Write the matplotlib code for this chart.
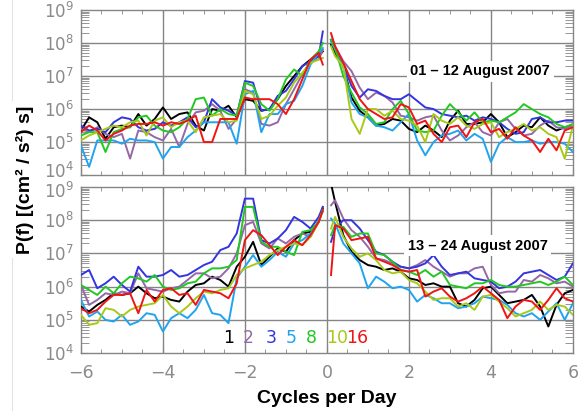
import matplotlib.pyplot as plt
import numpy as np
from matplotlib.lines import Line2D
from matplotlib.transforms import ScaledTranslation
from matplotlib.ticker import FixedLocator, LogLocator, MultipleLocator, NullFormatter

plt.rcParams.update({
    "font.family": "DejaVu Sans",
    "axes.linewidth": 1.0,
})

# frequency bins (cycles per day), each side of zero
FREQ_NEG = [-6.0, -5.8, -5.6, -5.4, -5.2, -5.0, -4.8, -4.6, -4.4, -4.2, -4.0,
            -3.8, -3.6, -3.4, -3.2, -3.0, -2.8, -2.6, -2.4, -2.2, -2.0,
            -1.8, -1.6, -1.4, -1.2, -1.0, -0.8, -0.6, -0.4, -0.2, -0.1]
FREQ_POS = [0.1, 0.2, 0.4, 0.6, 0.8, 1.0, 1.2, 1.4, 1.6, 1.8, 2.0,
            2.2, 2.4, 2.6, 2.8, 3.0, 3.2, 3.4, 3.6, 3.8, 4.0,
            4.2, 4.4, 4.6, 4.8, 5.0, 5.2, 5.4, 5.6, 5.8, 6.0]

DRIFTERS = ["1", "2", "3", "5", "8", "10", "16"]
COLORS = ["#000000", "#9468a8", "#3434e0", "#20a4f0", "#22c822", "#a8c81a", "#f01414"]

# log10 P(f), 01-12 August 2007
AUG01_NEG = {
    "1":  [5.35, 5.75, 5.6, 5.1, 5.45, 5.5, 5.45, 5.85, 5.5, 5.7, 6.05, 5.7, 5.85, 5.9, 5.5, 5.35,
           6.0, 5.95, 6.1, 5.75, 6.3, 6.25, 5.95, 6.0, 6.3, 6.7, 7.0, 7.3, 7.5, 7.6, 7.75],
    "2":  [5.4, 5.3, 5.45, 5.25, 5.15, 5.25, 4.5, 5.35, 5.3, 5.15, 5.05, 5.4, 4.85, 5.55, 5.9, 5.95,
           6.15, 5.95, 5.4, 5.7, 6.6, 6.5, 5.55, 5.5, 5.6, 6.15, 6.6, 7.05, 7.45, 7.5, 7.8],
    "3":  [5.5, 5.35, 5.4, 5.3, 5.6, 5.75, 5.7, 5.45, 5.35, 5.4, 5.6, 5.5, 5.6, 5.75, 5.45, 5.6,
           6.3, 6.05, 5.95, 5.8, 6.85, 6.8, 5.95, 6.0, 6.4, 6.55, 6.9, 7.3, 7.45, 7.6, 8.35],
    "5":  [4.9, 4.25, 5.05, 5.05, 5.05, 4.95, 5.1, 5.05, 5.05, 5.0, 4.5, 4.85, 4.85, 5.15, 5.35, 5.6,
           5.6, 5.6, 5.6, 4.95, 6.45, 6.55, 5.3, 5.85, 5.85, 6.15, 6.25, 6.7, 7.35, 7.7, 7.85],
    "8":  [5.2, 5.3, 5.3, 4.7, 5.3, 5.4, 5.45, 5.75, 5.8, 5.5, 5.35, 5.3, 5.45, 5.7, 6.3, 6.35,
           5.8, 6.0, 5.85, 5.8, 6.8, 6.7, 6.15, 5.95, 6.3, 6.9, 7.2, 7.0, 7.5, 7.75, 8.0],
    "10": [5.05, 5.2, 5.3, 5.4, 5.5, 5.45, 5.6, 5.65, 5.2, 5.65, 5.75, 5.45, 5.6, 5.65, 5.3, 5.75,
           5.8, 5.85, 5.6, 5.65, 6.55, 6.45, 5.7, 5.8, 6.1, 6.35, 6.8, 7.1, 7.4, 7.5, 7.55],
    "16": [5.3, 5.5, 5.35, 5.05, 5.25, 5.35, 5.5, 5.55, 5.55, 5.6, 5.5, 5.6, 5.55, 5.65, 5.8, 5.0,
           5.0, 5.7, 5.7, 5.7, 6.35, 6.3, 6.3, 6.3, 6.15, 5.85, 6.3, 6.9, 7.5, 7.7, 7.35],
}
AUG01_POS = {
    "1":  [7.95, 7.7, 7.3, 6.35, 5.95, 5.75, 5.5, 5.55, 5.7, 5.65, 5.4, 5.3, 5.5, 5.35, 5.15, 5.65,
           5.95, 5.55, 5.55, 5.6, 5.85, 5.6, 5.15, 5.3, 5.5, 5.45, 5.75, 5.5, 5.35, 5.45, 5.5],
    "2":  [8.1, 7.9, 7.45, 7.15, 6.65, 6.3, 6.5, 6.4, 6.2, 5.8, 5.75, 5.65, 5.75, 5.8, 5.35, 5.05,
           5.2, 5.45, 5.6, 5.3, 5.2, 5.6, 5.7, 5.4, 5.2, 5.25, 5.5, 5.65, 5.45, 5.4, 5.5],
    "3":  [8.1, 7.85, 7.35, 6.7, 6.35, 6.6, 6.55, 6.4, 6.3, 6.3, 6.45, 6.25, 6.05, 6.0, 5.85, 5.8,
           5.75, 5.8, 5.65, 5.75, 5.7, 5.6, 5.4, 5.25, 5.3, 5.7, 5.75, 5.6, 5.6, 5.65, 5.65],
    "5":  [8.05, 7.8, 7.3, 6.2, 5.85, 5.75, 5.5, 5.45, 5.35, 5.6, 5.85, 5.05, 4.6, 5.0, 5.2, 5.25,
           5.35, 5.05, 5.25, 5.1, 4.4, 4.95, 5.15, 5.0, 5.0, 5.05, 4.95, 5.0, 5.0, 4.95, 4.7],
    "8":  [8.1, 7.85, 7.0, 6.5, 6.05, 5.85, 5.55, 5.6, 6.0, 6.25, 5.85, 5.35, 5.3, 5.35, 5.8, 6.15,
           5.9, 5.65, 5.9, 5.6, 5.65, 5.6, 5.75, 5.9, 6.15, 6.0, 5.85, 5.75, 5.55, 5.45, 5.55],
    "10": [7.9, 7.6, 7.3, 5.7, 5.25, 6.0, 6.0, 5.8, 5.95, 5.7, 5.65, 5.5, 5.0, 5.85, 5.65, 5.55,
           5.75, 5.5, 5.4, 5.55, 5.6, 5.15, 5.3, 5.4, 5.55, 5.35, 5.45, 5.25, 5.15, 4.5, 5.5],
    "16": [8.3, 7.9, 7.4, 6.85, 6.3, 6.0, 5.85, 5.7, 5.75, 6.15, 6.05, 5.55, 5.65, 5.25, 5.0, 5.45,
           5.5, 5.15, 5.6, 5.7, 5.3, 5.4, 5.1, 5.45, 5.2, 5.05, 4.7, 5.1, 4.75, 5.35, 5.45],
}

# log10 P(f), 13-24 August 2007
AUG13_NEG = {
    "1":  [5.4, 5.25, 5.45, 5.6, 5.8, 5.75, 5.8, 6.0, 5.8, 5.65, 5.7, 5.6, 5.55, 5.85, 6.05, 6.1,
           6.3, 6.2, 6.0, 6.6, 6.9, 7.35, 6.65, 6.9, 7.15, 7.05, 7.4, 7.6, 7.65, 7.95, 8.35],
    "2":  [6.05, 5.45, 5.6, 5.8, 5.75, 5.85, 5.8, 6.4, 5.95, 5.9, 5.85, 5.95, 6.0, 6.2, 6.4, 6.4,
           6.25, 6.3, 6.55, 7.0, 7.85, 7.95, 7.3, 7.15, 7.45, 7.3, 7.5, 7.6, 7.5, 7.95, 8.4],
    "3":  [6.35, 6.5, 5.95, 6.1, 6.3, 6.05, 5.85, 6.6, 6.3, 6.3, 6.35, 6.5, 6.3, 6.35, 6.5, 6.65,
           6.75, 7.1, 7.2, 7.6, 8.65, 8.65, 7.4, 7.3, 7.45, 7.7, 8.1, 7.95, 7.75, 8.1, 8.4],
    "5":  [5.6, 5.1, 5.25, 5.0, 4.95, 5.15, 4.85, 4.95, 5.2, 5.15, 4.65, 5.05, 5.2, 5.05, 5.3, 5.75,
           5.2, 5.15, 4.9, 6.25, 6.6, 6.95, 6.6, 6.8, 7.05, 6.9, 7.3, 7.4, 7.6, 8.0, 8.25],
    "8":  [6.05, 5.9, 5.75, 6.0, 5.8, 6.1, 6.3, 6.25, 6.15, 6.35, 6.0, 5.9, 5.95, 6.1, 6.15, 6.4,
           6.55, 6.55, 6.6, 6.8, 8.4, 8.4, 7.35, 7.2, 7.2, 7.05, 6.95, 7.65, 7.7, 7.95, 8.3],
    "10": [5.15, 4.85, 4.9, 5.35, 5.3, 5.1, 5.3, 5.4, 5.45, 5.5, 5.75, 5.4, 5.2, 5.4, 5.65, 5.85,
           5.8, 5.9, 5.95, 6.35, 6.55, 6.65, 6.75, 6.95, 7.1, 7.2, 7.3, 7.25, 7.5, 7.95, 8.3],
    "16": [5.35, 5.2, 5.3, 5.55, 5.75, 5.75, 5.8, 5.2, 5.9, 5.55, 5.9, 5.95, 5.75, 5.8, 5.45, 5.9,
           5.85, 5.8, 5.65, 6.1, 7.4, 7.7, 7.55, 7.25, 6.95, 7.2, 7.4, 7.25, 7.55, 7.95, 8.3],
}
AUG13_POS = {
    "1":  [9.1, 8.55, 7.55, 7.05, 6.8, 6.65, 6.6, 6.5, 6.55, 6.45, 6.25, 6.2, 6.05, 6.1, 6.0, 6.0,
           5.5, 5.4, 5.6, 5.95, 6.0, 5.75, 5.5, 5.55, 5.6, 5.75, 5.4, 4.8, 5.45, 5.8, 5.9],
    "2":  [8.45, 8.6, 8.05, 7.7, 7.5, 7.2, 6.85, 6.8, 6.7, 6.6, 6.55, 6.65, 6.8, 6.6, 6.45, 6.3,
           6.4, 6.4, 6.55, 6.6, 6.05, 5.8, 5.85, 5.85, 6.2, 6.15, 6.35, 6.25, 6.1, 6.15, 6.0],
    "3":  [7.35, 7.75, 8.0, 8.0, 7.75, 7.4, 7.05, 6.95, 6.75, 6.6, 6.55, 6.6, 6.7, 6.95, 6.6, 6.35,
           6.4, 6.45, 6.25, 6.2, 6.15, 5.95, 6.0, 6.15, 6.4, 6.45, 6.5, 6.35, 6.2, 6.3, 6.7],
    "5":  [8.05, 7.9, 7.3, 7.0, 6.7, 5.95, 6.3, 6.15, 5.95, 6.0, 5.9, 5.55, 5.75, 5.65, 5.5, 5.5,
           5.35, 5.4, 5.5, 5.7, 5.65, 5.6, 5.45, 5.2, 5.1, 5.2, 5.0, 5.25, 5.5, 5.0, 5.5],
    "8":  [7.55, 7.85, 7.8, 7.5, 7.6, 7.6, 7.0, 6.95, 6.75, 6.5, 6.45, 6.35, 6.5, 6.3, 6.45, 6.05,
           6.0, 5.95, 6.1, 6.1, 6.2, 6.05, 6.0, 6.0, 6.05, 6.1, 6.15, 6.05, 6.15, 6.3, 6.05],
    "10": [7.75, 8.1, 7.5, 7.15, 6.9, 7.0, 6.8, 6.5, 6.4, 6.45, 6.2, 6.1, 5.85, 5.6, 5.65, 5.65,
           5.4, 5.5, 5.3, 5.7, 5.75, 5.55, 5.35, 5.1, 5.2, 5.3, 5.55, 5.3, 5.45, 5.4, 5.15],
    "16": [6.35, 7.85, 7.75, 7.4, 7.45, 7.5, 6.85, 6.75, 6.65, 6.5, 6.45, 6.5, 5.7, 5.85, 5.95, 5.7,
           5.55, 5.65, 5.8, 6.0, 5.8, 5.6, 5.05, 5.4, 5.6, 5.55, 5.3, 5.6, 5.95, 5.65, 5.55],
}

PANELS = [
    ("01 \u2013 12 August 2007", AUG01_NEG, AUG01_POS, (3.74, 10 ** 7.15)),
    ("13 \u2013 24 August 2007", AUG13_NEG, AUG13_POS, (3.68, 10 ** 7.23)),
]
# positions of the coloured drifter numbers in the lower panel
LEGEND_X = [-2.39, -1.93, -1.37, -0.88, -0.39, 0.24, 0.73]
LEGEND_Y = 10 ** 4.46

GRAY = "#858585"

fig = plt.figure(figsize=(5.82, 4.11), dpi=100)
ax_top = fig.add_axes([0.139, 0.574, 0.8454, 0.4015])
ax_bot = fig.add_axes([0.139, 0.141, 0.8454, 0.404])

for ax, (title, neg, pos, txy) in zip([ax_top, ax_bot], PANELS):
    ax.set_yscale("log")
    ax.set_xlim(-6, 6)
    ax.set_ylim(1e4, 1e9)

    for x in [-4, -2, 0, 2, 4]:
        ax.axvline(x, color=GRAY, lw=1.0, zorder=1)
    for e in range(5, 9):
        ax.axhline(10.0 ** e, color=GRAY, lw=1.0, zorder=1)

    for name, color in zip(DRIFTERS, COLORS):
        ax.plot(FREQ_NEG, 10 ** np.array(neg[name]), color=color, lw=1.4, zorder=3)
        ax.plot(FREQ_POS, 10 ** np.array(pos[name]), color=color, lw=1.4, zorder=3)

    ax.text(txy[0], txy[1], title, ha="center", va="center", fontsize=10.5,
            fontweight="bold", family="Liberation Sans", zorder=5,
            bbox=dict(facecolor="white", edgecolor="none", pad=2.5))

    ax.xaxis.set_major_locator(FixedLocator([-6, -4, -2, 0, 2, 4, 6]))
    ax.xaxis.set_minor_locator(MultipleLocator(0.5))
    ax.yaxis.set_major_locator(FixedLocator([1e4, 1e5, 1e6, 1e7, 1e8, 1e9]))
    ax.yaxis.set_minor_locator(LogLocator(base=10, subs=np.arange(2, 10), numticks=20))
    ax.yaxis.set_minor_formatter(NullFormatter())
    ax.tick_params(which="both", direction="in", top=True, right=True, color=GRAY,
                   labelcolor="#8a8a8a")
    ax.tick_params(which="major", length=5, labelsize=12, pad=5)
    ax.tick_params(axis="x", which="minor", length=3)
    ax.tick_params(axis="y", which="minor", length=6)
    for sp in ax.spines.values():
        sp.set_color(GRAY)

ax_top.tick_params(axis="x", labelbottom=False)
ax_bot.tick_params(axis="x", labelsize=12.5, pad=8)

# nudge the two labels that meet between the panels apart
lab_low = ax_top.yaxis.get_major_ticks()[0].label1
lab_low.set_transform(lab_low.get_transform()
                      + ScaledTranslation(0, 4 / 72, fig.dpi_scale_trans))
lab_high = ax_bot.yaxis.get_major_ticks()[5].label1
lab_high.set_transform(lab_high.get_transform()
                       + ScaledTranslation(0, -2 / 72, fig.dpi_scale_trans))

for name, color, lx in zip(DRIFTERS, COLORS, LEGEND_X):
    ax_bot.text(lx, LEGEND_Y, name, color=color, ha="center", va="center",
                fontsize=12.5, zorder=5)

fig.text(327 / 582, 1 - 398 / 411, "Cycles per Day", ha="center", va="center",
         fontsize=14, fontweight="bold", family="Liberation Sans")
fig.text(0.043, 0.562, "P(f) [(cm\u00b2 / s\u00b2) s]", ha="center", va="center",
         rotation=90, fontsize=14, fontweight="bold", family="Liberation Sans")

# faint frame edge left over from the source slide
fig.add_artist(Line2D([0.02, 0.02], [1.0, 0.757], color="#e2e2e2", lw=0.8))
fig.add_artist(Line2D([0.02, 0.02], [0.372, 0.0], color="#e2e2e2", lw=0.8))

fig.savefig("out.png", dpi=100)
